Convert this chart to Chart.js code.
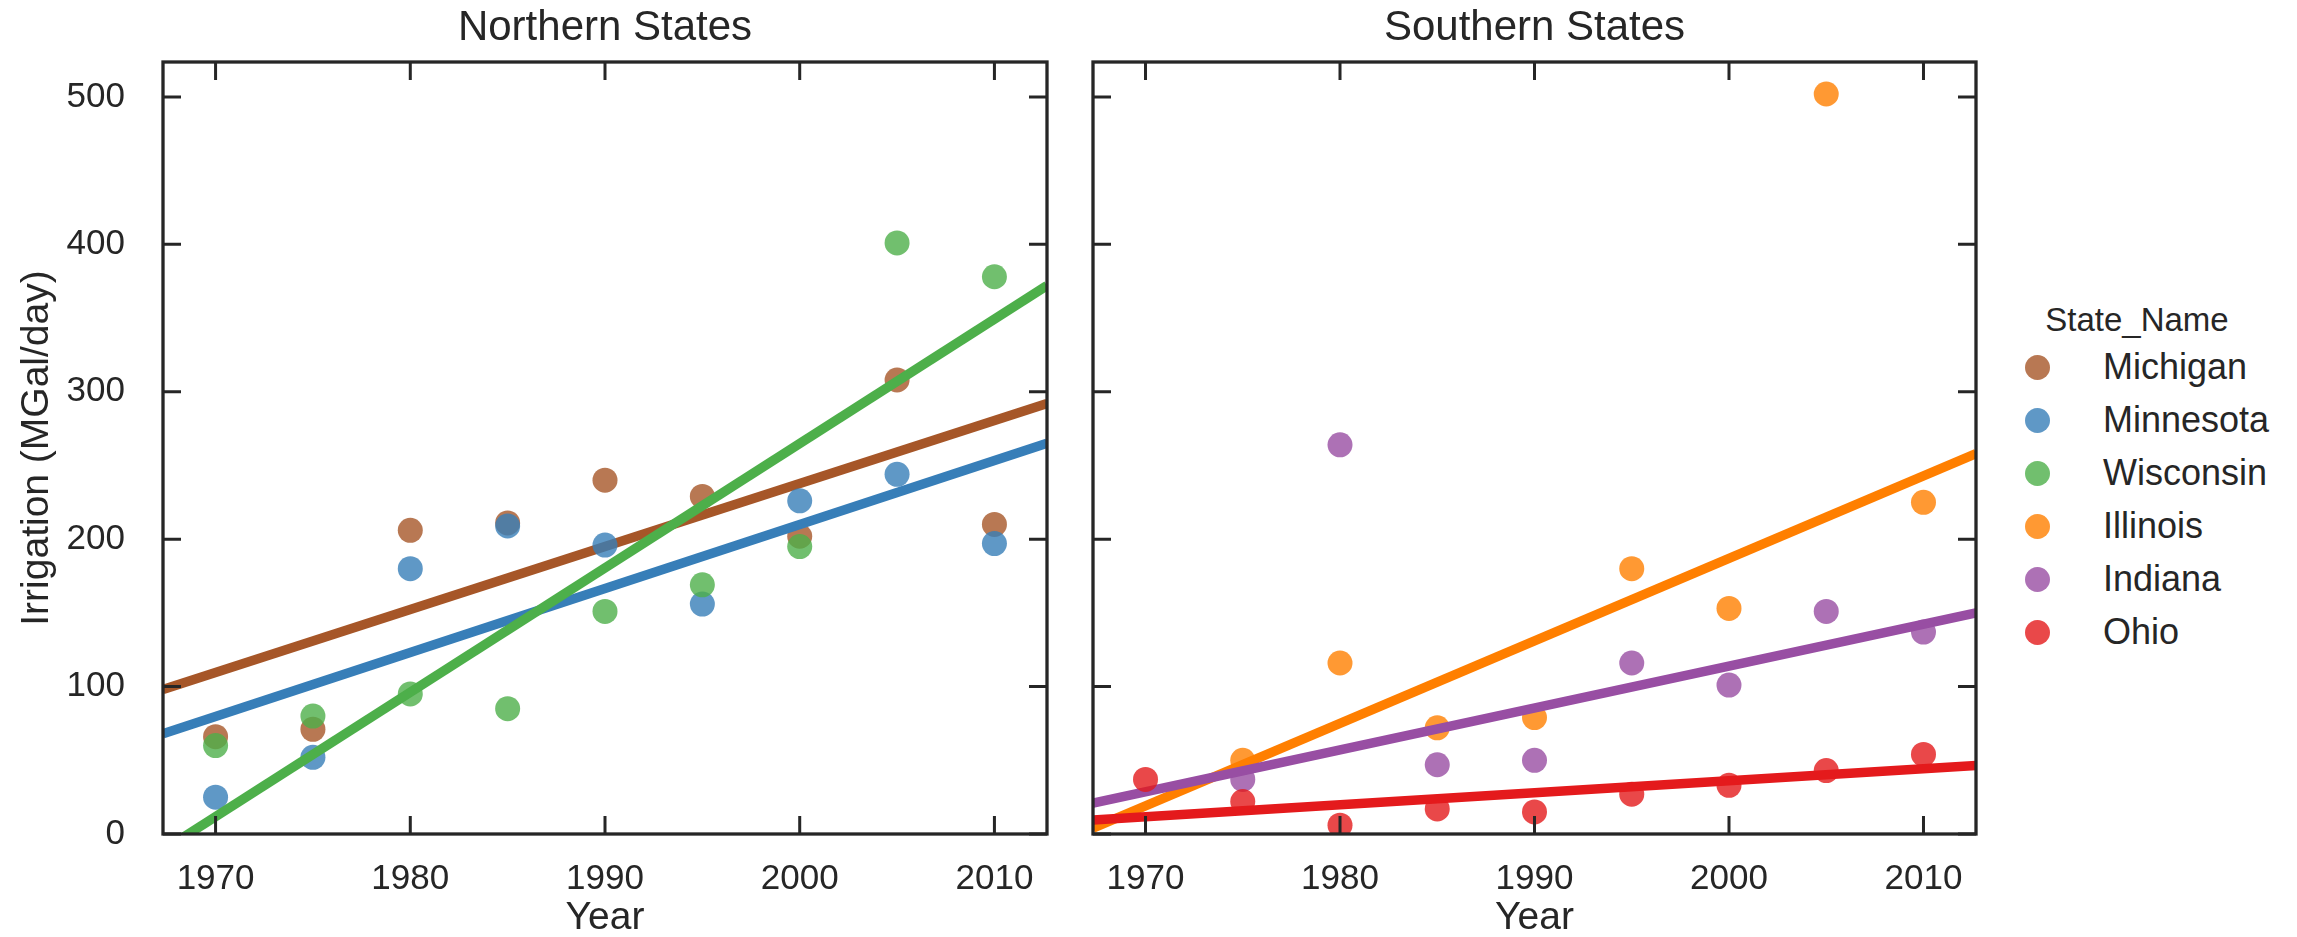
<!DOCTYPE html>
<html>
<head>
<meta charset="utf-8">
<title>Irrigation by state</title>
<script src="https://cdn.jsdelivr.net/npm/chart.js@4.4.1/dist/chart.umd.min.js"></script>
<style>
  html, body { margin: 0; padding: 0; background: #fff; }
  body {
    width: 2297px; height: 937px; position: relative; overflow: hidden;
    font-family: 'Liberation Sans', Arial, sans-serif; color: #262626;
  }
  .panel { position: absolute; top: 0; height: 937px; }
  #northPanel { left: 0; width: 1070px; }
  #southPanel { left: 1070px; width: 930px; }
  #legend { position: absolute; left: 2000px; top: 0; width: 297px; height: 937px; }
  #legend .title {
    position: absolute; left: 0; width: 274px; top: 303px;
    text-align: center; font-size: 33px; line-height: 33px;
  }
  #legend .dot { position: absolute; width: 25px; height: 25px; border-radius: 50%; }
  #legend .label { position: absolute; left: 103px; font-size: 36px; line-height: 36px; white-space: nowrap; }
</style>
</head>
<body>
<div class="panel" id="northPanel"><canvas id="northChart"></canvas></div>
<div class="panel" id="southPanel"><canvas id="southChart"></canvas></div>
<div id="legend"></div>

<script>
// data
const years = [1970, 1975, 1980, 1985, 1990, 1995, 2000, 2005, 2010];

const michigan = [66, 71, 206, 211, 240, 229, 202, 308, 210];
const minnesota = [25, 52, 180, 209, 196, 156, 226, 244, 197];
const wisconsin = [60, 80, 95, 85, 151, 169, 195, 401, 378];
const illinois = [null, 50, 116, 72, 79, 180, 153, 502, 225];
const indiana = [null, 37, 264, 47, 50, 116, 101, 151, 137];
const ohio = [37, 22, 6, 17, 15, 27, 33, 43, 54];

// regression lines, values at the left and right axis limits
const xLimits = [1967.3, 2012.7];
const michiganFit = [98, 292];
const minnesotaFit = [68, 265];
const wisconsinFit = [-11, 372];
const illinoisFit = [4, 258];
const indianaFit = [21, 150];
const ohioFit = [9.5, 46.5];

const xTicks = [1970, 1980, 1990, 2000, 2010];
const yTicks = [0, 100, 200, 300, 400, 500];
const yMax = 523.7;

const stateNames = ['Michigan', 'Minnesota', 'Wisconsin', 'Illinois', 'Indiana', 'Ohio'];
const stateColors = ['#a65628', '#377eb8', '#4daf4a', '#ff7f00', '#984ea3', '#e41a1c'];

const ink = '#262626';
const fontFamily = "'Liberation Sans', Arial, sans-serif";

Chart.defaults.font.family = fontFamily;
Chart.defaults.color = ink;

function withAlpha(hex, a) {
  const n = parseInt(hex.slice(1), 16);
  return 'rgba(' + (n >> 16) + ',' + ((n >> 8) & 255) + ',' + (n & 255) + ',' + a + ')';
}

// seaborn "ticks" style: full frame, ticks pointing inward on every side
const frameTicks = {
  id: 'frameTicks',
  afterDraw(chart) {
    const { ctx, chartArea: a, scales } = chart;
    const len = 18;
    ctx.save();
    ctx.strokeStyle = ink;
    ctx.lineWidth = 3;
    ctx.beginPath();
    xTicks.forEach(v => {
      const px = scales.x.getPixelForValue(v);
      ctx.moveTo(px, a.bottom);
      ctx.lineTo(px, a.bottom - len);
      ctx.moveTo(px, a.top);
      ctx.lineTo(px, a.top + len);
    });
    yTicks.forEach(v => {
      const py = scales.y.getPixelForValue(v);
      ctx.moveTo(a.left, py);
      ctx.lineTo(a.left + len, py);
      ctx.moveTo(a.right, py);
      ctx.lineTo(a.right - len, py);
    });
    ctx.stroke();
    ctx.lineWidth = 3.3;
    ctx.strokeRect(a.left, a.top, a.right - a.left, a.bottom - a.top);
    ctx.restore();
  }
};

function buildDatasets(names, series, fits) {
  const sets = [];
  const total = names.length * 2;
  names.forEach((name, i) => {
    const color = stateColors[stateNames.indexOf(name)];
    const points = [];
    years.forEach((yr, j) => {
      if (series[i][j] !== null) points.push({ x: yr, y: series[i][j] });
    });
    sets.push({
      type: 'scatter',
      label: name,
      data: points,
      pointRadius: 12.5,
      pointBorderWidth: 0,
      pointBackgroundColor: withAlpha(color, 0.8),
      clip: 0,
      order: total - sets.length
    });
    sets.push({
      type: 'line',
      label: name + ' fit',
      data: [{ x: xLimits[0], y: fits[i][0] }, { x: xLimits[1], y: fits[i][1] }],
      borderColor: color,
      borderWidth: 9.5,
      pointRadius: 0,
      fill: false,
      clip: 0,
      order: total - sets.length
    });
  });
  return sets;
}

function makePanel(canvasId, title, names, series, fits, showY) {
  const ctx = document.getElementById(canvasId);
  return new Chart(ctx, {
    type: 'scatter',
    data: { datasets: buildDatasets(names, series, fits) },
    options: {
      animation: false,
      responsive: true,
      maintainAspectRatio: false,
      devicePixelRatio: 1,
      layout: {
        padding: showY ? { left: 0, right: 23, top: 0, bottom: 0 } : { left: 23, right: 24, top: 0, bottom: 0 }
      },
      plugins: {
        legend: { display: false },
        tooltip: { enabled: false },
        title: {
          display: true,
          text: title,
          fullSize: false,
          color: ink,
          font: { size: 42, weight: 'normal' },
          padding: { top: 3, bottom: 8.6 }
        }
      },
      scales: {
        x: {
          type: 'linear',
          min: xLimits[0],
          max: xLimits[1],
          grid: { display: false },
          border: { display: false },
          afterBuildTicks: s => { s.ticks = xTicks.map(v => ({ value: v })); },
          afterFit: s => { s.height = 103; },
          ticks: {
            padding: 16,
            color: ink,
            font: { size: 35 },
            maxRotation: 0,
            callback: v => String(v)
          },
          title: {
            display: true,
            text: 'Year',
            color: ink,
            font: { size: 39, lineHeight: 1 },
            padding: { top: 0, bottom: -1 }
          }
        },
        y: {
          type: 'linear',
          display: showY,
          min: 0,
          max: yMax,
          grid: { display: false },
          border: { display: false },
          afterBuildTicks: s => { s.ticks = yTicks.map(v => ({ value: v })); },
          afterFit: s => { s.width = showY ? 163 : 0; },
          ticks: {
            padding: 30,
            color: ink,
            font: { size: 35 },
            callback: v => String(v)
          },
          title: {
            display: true,
            text: 'Irrigation (MGal/day)',
            color: ink,
            font: { size: 39, lineHeight: 1 },
            padding: { top: 17.5, bottom: 0 }
          }
        }
      }
    },
    plugins: [frameTicks]
  });
}

makePanel('northChart', 'Northern States',
  ['Michigan', 'Minnesota', 'Wisconsin'],
  [michigan, minnesota, wisconsin],
  [michiganFit, minnesotaFit, wisconsinFit], true);

makePanel('southChart', 'Southern States',
  ['Illinois', 'Indiana', 'Ohio'],
  [illinois, indiana, ohio],
  [illinoisFit, indianaFit, ohioFit], false);

// legend for both panels
const legend = document.getElementById('legend');
const legendTitle = document.createElement('div');
legendTitle.className = 'title';
legendTitle.textContent = 'State_Name';
legend.appendChild(legendTitle);
stateNames.forEach((name, i) => {
  const cy = 367 + i * 53;
  const dot = document.createElement('div');
  dot.className = 'dot';
  dot.style.left = (37 - 12.5) + 'px';
  dot.style.top = (cy - 12.5) + 'px';
  dot.style.background = withAlpha(stateColors[i], 0.8);
  legend.appendChild(dot);
  const label = document.createElement('div');
  label.className = 'label';
  label.style.top = (cy - 18) + 'px';
  label.textContent = name;
  legend.appendChild(label);
});
</script>
</body>
</html>
